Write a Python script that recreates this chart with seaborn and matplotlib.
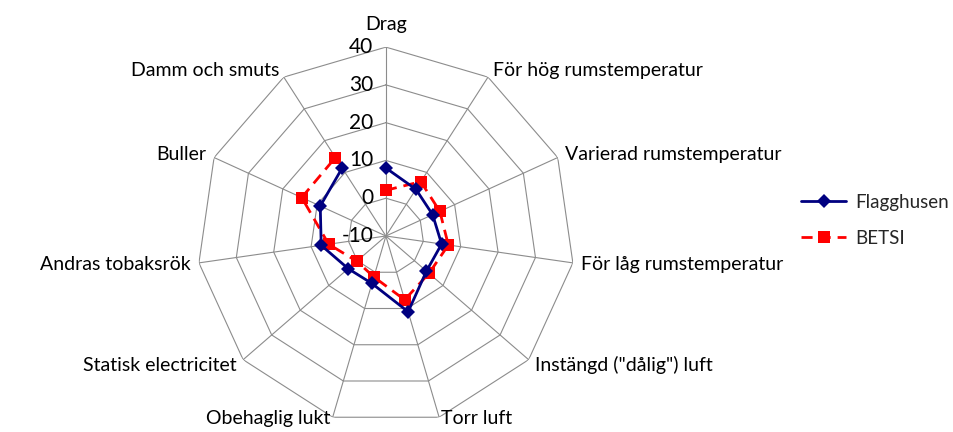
import numpy as np
import pandas as pd
import matplotlib
matplotlib.use("Agg")
import matplotlib.pyplot as plt
import seaborn as sns

categories = ["Drag", "För hög rumstemperatur", "Varierad rumstemperatur",
              "För låg rumstemperatur", "Instängd (\"dålig\") luft", "Torr luft",
              "Obehaglig lukt", "Statisk electricitet", "Andras tobaksrök",
              "Buller", "Damm och smuts"]
flagghusen = [8.0, 4.7, 3.6, 4.9, 4.2, 10.9, 3.1, 3.2, 7.3, 9.1, 11.4]
betsi = [2.1, 7.1, 5.7, 6.7, 5.1, 7.6, 1.3, 0.2, 5.3, 14.5, 14.7]
r_ticks = [-10, 0, 10, 20, 30, 40]

sns.set_theme(style="white")
plt.rcParams["font.family"] = ["Lato", "DejaVu Sans"]

n = len(categories)
theta = np.pi / 2 - 2 * np.pi * np.arange(n) / n
theta_closed = np.append(theta, theta[0])

fig = plt.figure(figsize=(9.54, 4.32), dpi=100)
ax = fig.add_axes([0.2065, 0.0162, 0.396, 0.875], projection="polar")
ax.set_ylim(-10, 40)
ax.grid(False)
ax.spines["polar"].set_visible(False)
ax.set_xticks([])
ax.set_yticks([])
ax.set_facecolor("none")

# polygon grid like Excel radar
grid_col = "#8c8c8c"
for rv in r_ticks[1:]:
    ax.plot(theta_closed, [rv] * (n + 1), color=grid_col, lw=0.8, zorder=1)
for t in theta:
    ax.plot([t, t], [r_ticks[0], r_ticks[-1]], color=grid_col, lw=0.8, zorder=1)

df = pd.DataFrame({
    "theta": np.concatenate([theta_closed, theta_closed]),
    "value": flagghusen + flagghusen[:1] + betsi + betsi[:1],
    "serie": ["Flagghusen"] * (n + 1) + ["BETSI"] * (n + 1),
})

sns.lineplot(data=df[df.serie == "Flagghusen"], x="theta", y="value", sort=False,
             color="#000080", lw=2, marker="D", markersize=7, markeredgewidth=0,
             ax=ax, label="Flagghusen", zorder=3)
sns.lineplot(data=df[df.serie == "BETSI"], x="theta", y="value", sort=False,
             color="#ff0000", lw=2, marker="s", markersize=9, markeredgewidth=0,
             dashes=(4, 2.5), ax=ax, label="BETSI", zorder=2)
ax.set_xlabel("")
ax.set_ylabel("")

for rv in r_ticks:
    ax.annotate(str(rv), xy=(np.pi / 2, rv), xytext=(-9, 0), textcoords="offset points",
                ha="right", va="center", fontsize=15, color="black")

for lab, t in zip(categories, theta):
    c, s = np.cos(t), np.sin(t)
    if abs(c) < 0.1:
        ha = "center"
    else:
        ha = "left" if c > 0 else "right"
    va = "bottom" if s > 0.95 else "center"
    off = 10 if s > 0.95 else 6
    dy = off * s if s > -0.9 else -1
    ax.annotate(lab, xy=(t, 40), xytext=(off * c, dy), textcoords="offset points",
                ha=ha, va=va, fontsize=14, color="black", annotation_clip=False)

ax.legend_.remove()
handles, labels = ax.get_legend_handles_labels()
fig.legend(handles, labels, loc="center left", bbox_to_anchor=(0.822, 0.49),
           frameon=False, fontsize=13.5, handlelength=2.4, handletextpad=0.5,
           labelspacing=1.0)

plt.savefig("out.png", dpi=100)
